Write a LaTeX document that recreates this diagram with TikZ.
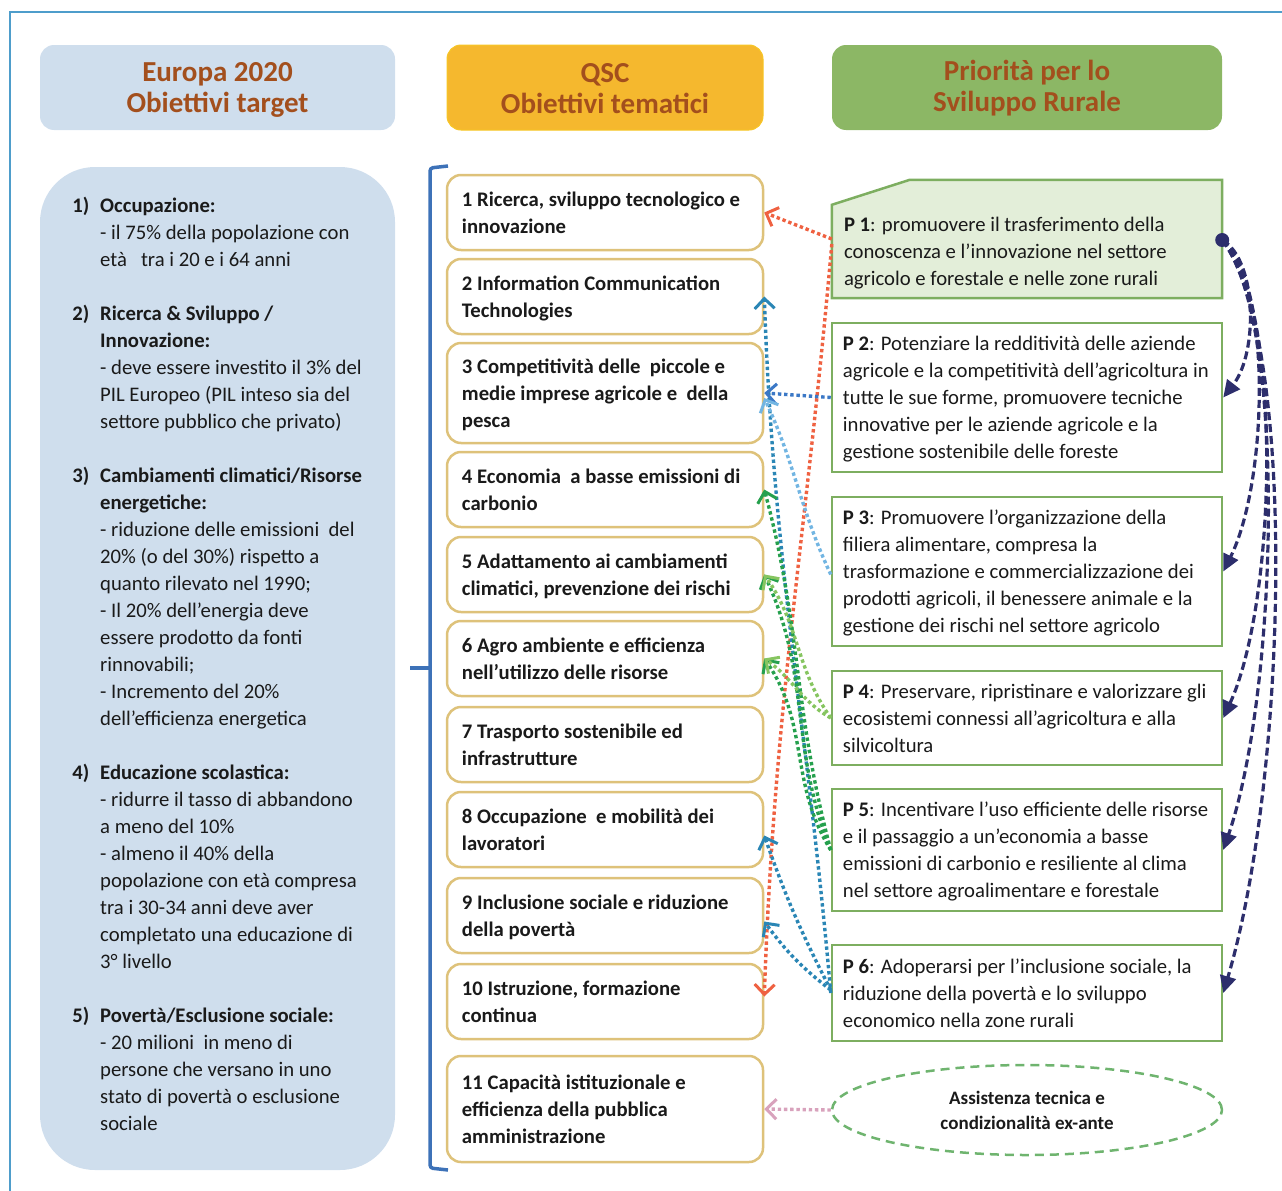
\documentclass[tikz,border=0pt]{standalone}
\usepackage{fontspec}
\setmainfont{Carlito}
\usetikzlibrary{arrows.meta,shapes.geometric}
\definecolor{frameblue}{HTML}{4E9DCB}
\definecolor{paleblue}{HTML}{CFDEED}
\definecolor{qscorange}{HTML}{F5B82E}
\definecolor{srgreen}{HTML}{8CB765}
\definecolor{headtext}{HTML}{A34F1D}
\definecolor{goldline}{HTML}{DEC27A}
\definecolor{pgreen}{HTML}{7DAE60}
\definecolor{pfill}{HTML}{E3EED9}
\definecolor{bracketblue}{HTML}{3D72B8}
\definecolor{linkred}{HTML}{EF6141}
\definecolor{linkteal}{HTML}{2A86B5}
\definecolor{linkblue}{HTML}{3B78C6}
\definecolor{linklight}{HTML}{72B5E2}
\definecolor{linkgreen}{HTML}{25A04D}
\definecolor{linklgreen}{HTML}{86C560}
\definecolor{linkpink}{HTML}{D8A2BC}
\definecolor{navy}{HTML}{2D2E6C}
\definecolor{ellgreen}{HTML}{6FB46F}
\definecolor{txt}{HTML}{1A1A1A}
\begin{document}
\begin{tikzpicture}[x=1pt,y=1pt,
  headbox/.style={rounded corners=14pt, minimum height=85pt, inner sep=0pt},
  headtxt/.style={inner sep=0pt, font=\fontsize{29}{31}\selectfont\bfseries, text=headtext, align=center},
  midbox/.style={draw=goldline, line width=2.5pt, fill=white, rounded corners=14pt,
    minimum width=316pt, inner sep=0pt},
  pbox/.style={draw=pgreen, line width=2.5pt, fill=white, minimum width=390pt, inner sep=0pt},
  lptext/.style={anchor=north west, inner sep=0pt, align=left, text=txt,
    font=\fontsize{20.7}{27}\selectfont, execute at begin node=\strut},
  midtxt/.style={anchor=west, inner sep=0pt, align=left, text=txt,
    font=\fontsize{20.7}{27}\selectfont\bfseries,
    execute at begin node=\strut, execute at end node=\strut},
  ptxt/.style={anchor=west, inner sep=0pt, align=left, text=txt,
    font=\fontsize{20.7}{27}\selectfont,
    execute at begin node=\strut, execute at end node=\strut},
  linkbase/.style={line width=3.4pt, dash pattern=on 3.4pt off 2.8pt,
    -{Straight Barb[length=10pt,width=20pt,line width=3pt]}},
  navylink/.style={draw=navy, line width=3.2pt, dash pattern=on 8pt off 4pt,
    -{Triangle[length=17pt,width=16pt]}}
]
\useasboundingbox (0,-1191) rectangle (1282,0);
% frame
\draw[frameblue, line width=2pt] (10,-1191) -- (10,-12) -- (1282,-12);

% headers
\node[headbox, fill=paleblue, minimum width=355pt] (h1) at (217.5,-87.5) {};
\node[headtxt] (ht1) at ([yshift=-2pt]h1.center) {Europa 2020\\Obiettivi target};
\node[headbox, fill=qscorange, draw=qscorange!80!yellow, line width=1pt, minimum width=316pt] (h2) at (605,-87.5) {};
\node[headtxt] (ht2) at ([yshift=-1pt]h2.center) {QSC\\Obiettivi tematici};
\node[headbox, fill=srgreen, minimum width=390pt] (h3) at (1027,-87.5) {};
\node[headtxt] (ht3) at ([yshift=-1pt]h3.center) {Priorità per lo\\Sviluppo Rurale};

% left panel
\node[fill=paleblue, rounded corners=55pt, minimum width=355pt, minimum height=1003pt, inner sep=0pt] (lp) at (217.5,-668.5) {};
\node[lptext] (i1) at (100,-197) {\llap{\textbf{1)}\hspace{11pt}}\textbf{Occupazione:}\\- il 75\% della popolazione con\\età\ \ \ tra i 20 e i 64 anni};
\node[lptext] (i2) at (100,-305) {\llap{\textbf{2)}\hspace{11pt}}\textbf{Ricerca \& Sviluppo /}\\\textbf{Innovazione:}\\- deve essere investito il 3\% del\\PIL Europeo (PIL inteso sia del\\settore pubblico che privato)};
\node[lptext] (i3) at (100,-467) {\llap{\textbf{3)}\hspace{11pt}}\textbf{Cambiamenti climatici/Risorse}\\\textbf{energetiche:}\\- riduzione delle emissioni\ \ del\\20\% (o del 30\%) rispetto a\\quanto rilevato nel 1990;\\- Il 20\% dell’energia deve\\essere prodotto da fonti\\rinnovabili;\\- Incremento del 20\%\\dell’efficienza energetica};
\node[lptext] (i4) at (100,-764) {\llap{\textbf{4)}\hspace{11pt}}\textbf{Educazione scolastica:}\\- ridurre il tasso di abbandono\\a meno del 10\%\\- almeno il 40\% della\\popolazione con età compresa\\tra i 30-34 anni deve aver\\completato una educazione di\\3° livello};
\node[lptext] (i5) at (100,-1007) {\llap{\textbf{5)}\hspace{11pt}}\textbf{Povertà/Esclusione sociale:}\\- 20 milioni\ \ in meno di\\persone che versano in uno\\stato di povertà o esclusione\\sociale};

% bracket
\draw[bracketblue, line width=3.5pt, rounded corners=3pt] (448,-166) -- (430,-168) -- (430,-1168) -- (448,-1170);
\draw[bracketblue, line width=3.5pt] (430,-668) -- (410,-668);

% middle boxes
\node[midbox, minimum height=75pt] (b1) at (605,-212.5) {};
\node[midtxt] (t1) at ([xshift=16pt,yshift=-4pt]b1.west) {1 Ricerca, sviluppo tecnologico e\\innovazione};
\node[midbox, minimum height=75pt] (b2) at (605,-296.5) {};
\node[midtxt] (t2) at ([xshift=16pt,yshift=-4pt]b2.west) {2 Information Communication\\Technologies};
\node[midbox, minimum height=100pt] (b3) at (605,-393) {};
\node[midtxt] (t3) at ([xshift=16pt,yshift=-4pt]b3.west) {3 Competitività delle\ \ piccole e\\medie imprese agricole e\ \ della\\pesca};
\node[midbox, minimum height=75pt] (b4) at (605,-489.5) {};
\node[midtxt] (t4) at ([xshift=16pt,yshift=-4pt]b4.west) {4 Economia\ \ a basse emissioni di\\carbonio};
\node[midbox, minimum height=75pt] (b5) at (605,-574.5) {};
\node[midtxt] (t5) at ([xshift=16pt,yshift=-4pt]b5.west) {5 Adattamento ai cambiamenti\\climatici, prevenzione dei rischi};
\node[midbox, minimum height=75pt] (b6) at (605,-658.5) {};
\node[midtxt] (t6) at ([xshift=16pt,yshift=-4pt]b6.west) {6 Agro ambiente e efficienza\\nell’utilizzo delle risorse};
\node[midbox, minimum height=75pt] (b7) at (605,-744.5) {};
\node[midtxt] (t7) at ([xshift=16pt,yshift=-4pt]b7.west) {7 Trasporto sostenibile ed\\infrastrutture};
\node[midbox, minimum height=75pt] (b8) at (605,-829.5) {};
\node[midtxt] (t8) at ([xshift=16pt,yshift=-4pt]b8.west) {8 Occupazione\ \ e mobilità dei\\lavoratori};
\node[midbox, minimum height=75pt] (b9) at (605,-915.5) {};
\node[midtxt] (t9) at ([xshift=16pt,yshift=-4pt]b9.west) {9 Inclusione sociale e riduzione\\della povertà};
\node[midbox, minimum height=75pt] (b10) at (605,-1001.5) {};
\node[midtxt] (t10) at ([xshift=16pt,yshift=-4pt]b10.west) {10 Istruzione, formazione\\continua};
\node[midbox, minimum height=106pt] (b11) at (605,-1109) {};
\node[midtxt] (t11) at ([xshift=16pt,yshift=-4pt]b11.west) {11 Capacità istituzionale e\\efficienza della pubblica\\amministrazione};

% priority boxes
\node[minimum width=390pt, minimum height=118pt, inner sep=0pt] (p1) at (1027,-239) {};
\draw[draw=pgreen, fill=pfill, line width=2.5pt] (p1.south west) -- ([yshift=-25pt]p1.north west) -- ([xshift=78pt]p1.north west) -- (p1.north east) -- (p1.south east) -- cycle;
\node[ptxt] (q1) at ([xshift=12pt,yshift=-16pt]p1.west) {\textbf{P 1}: promuovere il trasferimento della\\conoscenza e l’innovazione nel settore\\agricolo e forestale e nelle zone rurali};
\node[pbox, minimum height=149pt] (p2) at (1027,-397.5) {};
\node[ptxt] (q2) at ([xshift=12pt,yshift=-4pt]p2.west) {\textbf{P 2}: Potenziare la redditività delle aziende\\agricole e la competitività dell’agricoltura in\\tutte le sue forme, promuovere tecniche\\innovative per le aziende agricole e la\\gestione sostenibile delle foreste};
\node[pbox, minimum height=149pt] (p3) at (1027,-571.5) {};
\node[ptxt] (q3) at ([xshift=12pt,yshift=-4pt]p3.west) {\textbf{P 3}: Promuovere l’organizzazione della\\filiera alimentare, compresa la\\trasformazione e commercializzazione dei\\prodotti agricoli, il benessere animale e la\\gestione dei rischi nel settore agricolo};
\node[pbox, minimum height=94pt] (p4) at (1027,-718) {};
\node[ptxt] (q4) at ([xshift=12pt,yshift=-4pt]p4.west) {\textbf{P 4}: Preservare, ripristinare e valorizzare gli\\ecosistemi connessi all’agricoltura e alla\\silvicoltura};
\node[pbox, minimum height=122pt] (p5) at (1027,-850) {};
\node[ptxt] (q5) at ([xshift=12pt,yshift=-4pt]p5.west) {\textbf{P 5}: Incentivare l’uso efficiente delle risorse\\e il passaggio a un’economia a basse\\emissioni di carbonio e resiliente al clima\\nel settore agroalimentare e forestale};
\node[pbox, minimum height=96pt] (p6) at (1027,-993) {};
\node[ptxt] (q6) at ([xshift=12pt,yshift=-4pt]p6.west) {\textbf{P 6}: Adoperarsi per l’inclusione sociale, la\\riduzione della povertà e lo sviluppo\\economico nella zone rurali};

% ellipse
\node[ellipse, draw=ellgreen, line width=2.5pt, dash pattern=on 9pt off 6pt, minimum width=390pt, minimum height=90pt, inner sep=0pt, text=txt, font=\fontsize{19}{25}\selectfont\bfseries, align=center] (el) at (1027,-1110) {Assistenza tecnica e\\condizionalità ex-ante};

% coloured dotted connectors
\draw[linkbase, draw=linkred] (p1.west) -- (b1.east);
\draw[linkbase, draw=linkred] ([yshift=-5pt]p1.west) to[out=-95, in=88] ([yshift=5pt]b10.east);
\draw[linkbase, draw=linkteal] (p6.west) to[out=95, in=-88] (b2.east);
\draw[linkbase, draw=linkteal] ([yshift=3pt]p6.west) to[bend left=4] ([yshift=-6pt]b8.east);
\draw[linkbase, draw=linkteal] ([yshift=3pt]p6.west) to[bend left=8] ([yshift=-6pt]b9.east);
\draw[linkbase, draw=linkblue] (p2.west) -- (b3.east);
\draw[linkbase, draw=linklight] ([yshift=-3pt]p3.west) to[out=115, in=-65] ([yshift=-5pt]b3.east);
\draw[linkbase, draw=linkgreen] (p5.west) to[out=105, in=-75] (b4.east);
\draw[linkbase, draw=linkgreen] (p5.west) to[out=112, in=-65] (b5.east);
\draw[linkbase, draw=linkgreen] (p5.west) to[out=122, in=-55] (b6.east);
\draw[linkbase, draw=linklgreen] (p4.west) to[out=125, in=-55] (b5.east);
\draw[linkbase, draw=linklgreen] (p4.west) to[out=150, in=-35] (b6.east);
\draw[linkbase, draw=linkpink] (el.west) -- (b11.east);

% navy dashed connectors
\coordinate (dot) at ([yshift=-1pt]p1.east);
\draw[navylink] (dot) .. controls +(35,-20) and +(35,45) .. (p2.east);
\draw[navylink] (dot) .. controls +(50,-40) and +(45,90) .. (p3.east);
\draw[navylink] (dot) .. controls +(60,-60) and +(55,120) .. (p4.east);
\draw[navylink] (dot) .. controls +(65,-80) and +(55,160) .. (p5.east);
\draw[navylink] (dot) .. controls +(75,-100) and +(65,220) .. (p6.east);
\fill[navy] (dot) circle (7pt);
\end{tikzpicture}
\end{document}
